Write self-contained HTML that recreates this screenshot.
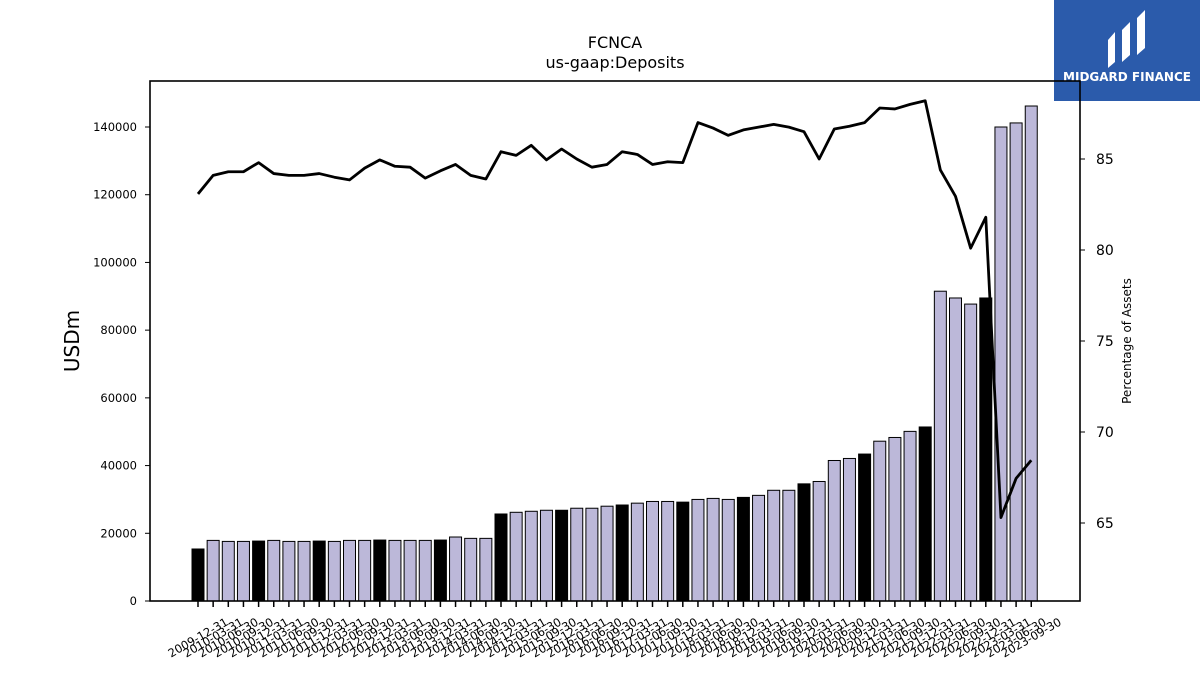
<!DOCTYPE html>
<html><head><meta charset="utf-8"><style>
body{margin:0;background:#fff;}
svg{display:block;font-family:"DejaVu Sans","Liberation Sans",sans-serif;}
</style></head><body>
<svg id="chart" width="1200" height="675">
<g id="logo">
<rect x="1054" y="0" width="146" height="101" fill="#2b5bab"/>
<path d="M1108 68 L1108 40 L1115 32 L1115 62 Z M1122 62 L1122 30 L1130 22 L1130 55 Z M1137 55 L1137 18 L1145 10 L1145 48 Z" fill="#fff"/>
<text x="1127" y="81" fill="#fff" font-size="12" font-weight="bold" text-anchor="middle">MIDGARD FINANCE</text>
</g>
<text x="615" y="48" font-size="16" text-anchor="middle">FCNCA</text>
<text x="615" y="68" font-size="16" text-anchor="middle">us-gaap:Deposits</text>
<g id="plot"></g>
</svg>
<script>
const categories = ["2009-12-31","2010-03-31","2010-06-30","2010-09-30","2010-12-31","2011-03-31","2011-06-30","2011-09-30","2011-12-31","2012-03-31","2012-06-30","2012-09-30","2012-12-31","2013-03-31","2013-06-30","2013-09-30","2013-12-31","2014-03-31","2014-06-30","2014-09-30","2014-12-31","2015-03-31","2015-06-30","2015-09-30","2015-12-31","2016-03-31","2016-06-30","2016-09-30","2016-12-31","2017-03-31","2017-06-30","2017-09-30","2017-12-31","2018-03-31","2018-06-30","2018-09-30","2018-12-31","2019-03-31","2019-06-30","2019-09-30","2019-12-31","2020-03-31","2020-06-30","2020-09-30","2020-12-31","2021-03-31","2021-06-30","2021-09-30","2021-12-31","2022-03-31","2022-06-30","2022-09-30","2022-12-31","2023-03-31","2023-06-30","2023-09-30"];
const deposits = [15360,17900,17600,17600,17700,17900,17600,17600,17700,17600,17900,17900,18000,17900,17900,17900,18000,18900,18500,18500,25700,26200,26500,26800,26800,27400,27400,28000,28350,28900,29400,29400,29200,30000,30300,30000,30600,31200,32700,32700,34600,35300,41500,42100,43400,47200,48300,50100,51400,91500,89500,87700,89500,140000,141200,146200];
const pctAssets = [83.08,84.1,84.3,84.3,84.8,84.2,84.1,84.1,84.2,84.0,83.85,84.5,84.95,84.6,84.55,83.95,84.35,84.7,84.1,83.9,85.4,85.2,85.75,84.95,85.55,85.0,84.55,84.7,85.4,85.25,84.7,84.85,84.8,87.0,86.7,86.3,86.6,86.75,86.9,86.75,86.5,85.0,86.65,86.8,87.0,87.8,87.75,88.0,88.2,84.4,82.95,80.1,81.8,65.3,67.45,68.45];
const leftTicks = [0,20000,40000,60000,80000,100000,120000,140000];
const rightTicks = [65,70,75,80,85];

const NS="http://www.w3.org/2000/svg";
const g=document.getElementById('plot');
const X0=150,X1=1080,Y0=81,Y1=601;
const yL=v=>Y1-v/140000*474;
const yR=v=>159-(v-85)*18.2;
const step=15.15, first=198;
const xB=i=>first+i*step;
function mk(t,a,p){const e=document.createElementNS(NS,t);for(const k in a)e.setAttribute(k,a[k]);(p||g).appendChild(e);return e;}

deposits.forEach((v,i)=>{
  const r=mk('rect',{x:xB(i)-6,y:yL(v),width:12,height:Y1-yL(v),fill:(i%4===0)?'#000':'#bcb8d9',stroke:'#000','stroke-width':1});
  
  
});
const pts=pctAssets.map((v,i)=>xB(i)+','+yR(v)).join(' ');
const ln=mk('polyline',{points:pts,fill:'none',stroke:'#000','stroke-width':2.8,'stroke-linejoin':'round'});



const fr=mk('rect',{x:X0,y:Y0,width:X1-X0,height:Y1-Y0,fill:'none',stroke:'#000','stroke-width':1.6});



leftTicks.forEach(v=>{
  mk('line',{x1:X0-5,x2:X0,y1:yL(v),y2:yL(v),stroke:'#000'});
  const t=mk('text',{x:X0-13,y:yL(v)+4,'font-size':11.5,'text-anchor':'end'});
  t.textContent=v;
  
  
});
rightTicks.forEach(v=>{
  mk('line',{x1:X1,x2:X1+5,y1:yR(v),y2:yR(v),stroke:'#000'});
  const t=mk('text',{x:X1+16,y:yR(v)+5,'font-size':14});
  t.textContent=v;
  
  
});
categories.forEach((c,i)=>{
  mk('line',{x1:xB(i),x2:xB(i),y1:Y1,y2:Y1+6,stroke:'#000','stroke-width':1.5});
  const t=mk('text',{x:0,y:0,'font-size':11.5,'text-anchor':'middle',transform:`translate(${xB(i)+2},${Y1+40}) rotate(-30)`});
  t.textContent=c;
  
  
});
const yl=mk('text',{x:0,y:0,'font-size':20,'text-anchor':'middle',transform:'translate(79,341) rotate(-90)'});
yl.textContent='USDm';


const yr=mk('text',{x:0,y:0,'font-size':12,'text-anchor':'middle',transform:'translate(1131,341) rotate(-90)'});
yr.textContent='Percentage of Assets';


</script>
</body></html>
